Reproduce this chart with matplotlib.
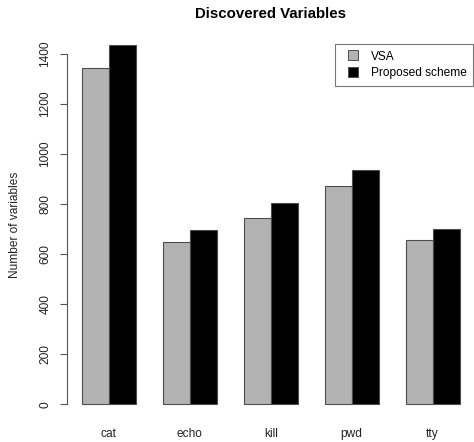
import numpy as np
import matplotlib
matplotlib.use('Agg')
from matplotlib import pyplot as plt
from matplotlib.lines import Line2D

plt.rcParams['font.family'] = ['Liberation Sans', 'DejaVu Sans']

commands = ['cat', 'echo', 'kill', 'pwd', 'tty']
vsa = [1342, 647, 746, 874, 655]
proposed = [1436, 697, 804, 935, 701]
yticks = [0, 200, 400, 600, 800, 1000, 1200, 1400]
vsa_color = '#b3b3b3'
prop_color = 'black'

W, H = 474, 442
fig = plt.figure(figsize=(W / 100, H / 100), dpi=100)
# plot region in pixels (R style layout)
left, right, top, bottom = 66.6, 474.8, 30.6, 418.7
ax = fig.add_axes([left / W, 1 - bottom / H, (right - left) / W, (bottom - top) / H])

# R barplot(beside=TRUE): bars of width 1, one empty unit between groups
n = len(commands)
x0 = 1 + 3 * np.arange(n)
ax.bar(x0, vsa, width=1, align='edge', color=vsa_color, edgecolor='#4d4d4d', linewidth=0.8)
ax.bar(x0 + 1, proposed, width=1, align='edge', color=prop_color, edgecolor='#4d4d4d', linewidth=0.8)

ymax = max(max(vsa), max(proposed))
ax.set_xlim(0.44, 3 * n + 0.56)
ax.set_ylim(-0.04 * ymax, 1.04 * ymax)

for s in ['top', 'right', 'bottom']:
    ax.spines[s].set_visible(False)
ax.spines['left'].set_bounds(0, 1400)
ax.spines['left'].set_color('#555555')
ax.spines['left'].set_linewidth(0.8)

ax.set_yticks(yticks)
ax.set_yticklabels([str(v) for v in yticks], rotation=90, va='center', fontsize=8.6, color='#222222')
ax.tick_params(axis='y', length=5, width=0.8, color='#555555', pad=6)
ax.set_xticks(x0 + 1)
ax.set_xticklabels(commands, fontsize=8.6, color='#222222')
ax.tick_params(axis='x', length=0, pad=7)

fig.text((left + right) / 2 / W, 1 - 14 / H, 'Discovered Variables', ha='center', va='center',
         fontsize=10.8, fontweight='bold')
fig.text(15 / W, 1 - (top + bottom) / 2 / H, 'Number of variables', rotation=90, ha='center',
         va='center', fontsize=8.6, color='#222222')

handles = [Line2D([], [], ls='none', marker='s', markersize=6.5, markerfacecolor=c,
                  markeredgecolor='#4d4d4d', markeredgewidth=0.7) for c in (vsa_color, prop_color)]
leg = ax.legend(handles, ['VSA', 'Proposed scheme'], loc='upper right',
                bbox_to_anchor=(473 / W, 1 - 44 / H), bbox_transform=fig.transFigure,
                fontsize=8.6, fancybox=False, frameon=True, borderaxespad=0, handlelength=1.9,
                handletextpad=0.5, borderpad=0.55, labelspacing=0.4)
leg.get_frame().set_edgecolor('#555555')
leg.get_frame().set_linewidth(0.8)

fig.savefig('out.png', dpi=100)
